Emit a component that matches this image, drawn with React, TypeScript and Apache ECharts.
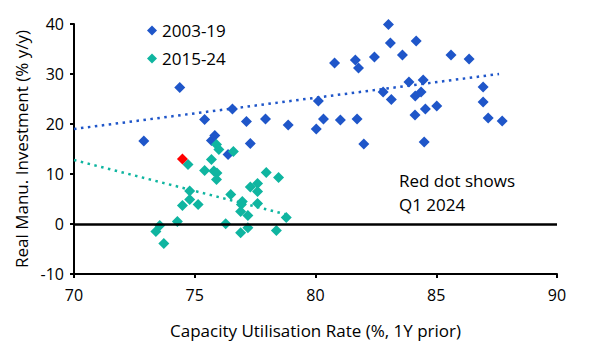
import React, { useEffect, useRef } from "react";
import * as echarts from "echarts";

const series2003: [number, number][] = [
  [72.89, 16.6], [74.38, 27.3], [75.41, 20.9], [75.69, 16.7], [75.83, 17.7],
  [76.38, 13.9], [76.56, 23.0], [77.14, 20.5], [77.3, 16.1], [77.93, 21.0],
  [78.87, 19.8], [80.03, 19.0], [80.12, 24.6], [80.33, 21.0], [80.79, 32.2],
  [81.03, 20.8], [81.65, 32.8], [81.78, 31.2], [81.72, 21.0], [82.0, 16.0],
  [82.44, 33.4], [82.8, 26.4], [83.02, 39.9], [83.1, 36.2], [83.14, 24.9],
  [83.6, 33.8], [83.87, 28.4], [84.17, 36.6], [84.13, 25.6], [84.37, 26.4],
  [84.46, 28.8], [84.12, 21.8], [84.55, 23.0], [84.5, 16.4], [85.02, 23.6],
  [85.61, 33.8], [86.36, 33.0], [86.94, 27.4], [86.94, 24.4], [87.15, 21.2],
  [87.73, 20.6],
];

const series2015: [number, number][] = [
  [73.39, -1.5], [73.55, -0.3], [73.72, -3.9], [74.28, 0.5], [74.49, 3.7],
  [74.72, 11.9], [74.79, 6.6], [74.79, 4.9], [75.14, 3.9], [75.41, 10.7],
  [75.69, 12.9], [75.79, 10.6], [75.92, 10.2], [75.9, 8.9], [75.9, 15.9],
  [76.0, 14.9], [76.6, 14.5], [76.28, 0.05], [76.49, 5.9], [76.97, 4.5],
  [76.93, 3.9], [76.9, 2.5], [77.2, 1.7], [77.2, -0.75], [76.9, -1.75],
  [77.3, 7.4], [77.6, 8.1], [77.6, 6.5], [77.6, 4.1], [77.96, 10.3],
  [78.47, 9.3], [78.79, 1.3], [78.38, -1.3],
];

const latestPoint: [number, number][] = [[74.49, 13.0]];

const trend2003: [number, number][] = [[70, 19.0], [87.6, 30.0]];
const trend2015: [number, number][] = [[70, 12.8], [78.8, 1.9]];

const legendNames = ["2003-19", "2015-24"];
const xTicks = { min: 70, max: 90, interval: 5 };
const yTicks = { min: -10, max: 40, interval: 10 };

const BLUE = "#1F56C9";
const TEAL = "#0FB5A0";
const FONT = "Open Sans";

export default function App() {
  const ref = useRef<HTMLDivElement>(null);
  useEffect(() => {
    if (!ref.current) return;
    const chart = echarts.init(ref.current, undefined, { renderer: "svg" });
    chart.setOption({
      animation: false,
      textStyle: { fontFamily: FONT, color: "#000" },
      grid: { left: 74, right: 32, top: 24, bottom: 76 },
      legend: {
        data: legendNames,
        orient: "vertical",
        left: 142,
        top: 17,
        itemWidth: 10,
        itemHeight: 10,
        itemGap: 11,
        icon: "diamond",
        textStyle: { fontSize: 17, fontFamily: FONT, color: "#000" },
      },
      xAxis: {
        type: "value",
        min: xTicks.min,
        max: xTicks.max,
        interval: xTicks.interval,
        name: "Capacity Utilisation Rate (%, 1Y prior)",
        nameLocation: "middle",
        nameGap: 48,
        nameTextStyle: { fontSize: 17, fontFamily: FONT, color: "#000" },
        axisLine: { onZero: false, lineStyle: { color: "#000", width: 2 } },
        axisTick: { show: true, length: 4, lineStyle: { color: "#000", width: 2 } },
        axisLabel: { fontSize: 16, color: "#000", margin: 13 },
        splitLine: { show: false },
      },
      yAxis: {
        type: "value",
        min: yTicks.min,
        max: yTicks.max,
        interval: yTicks.interval,
        name: "Real Manu. Investment (% y/y)",
        nameLocation: "middle",
        nameGap: 43,
        nameTextStyle: { fontSize: 17, fontFamily: FONT, color: "#000" },
        axisLine: { show: true, lineStyle: { color: "#000", width: 2 } },
        axisTick: { show: true, length: 4, lineStyle: { color: "#000", width: 2 } },
        axisLabel: { fontSize: 16, color: "#000", margin: 10 },
        splitLine: { show: false },
      },
      series: [
        {
          name: "trend2003",
          type: "line",
          data: trend2003,
          showSymbol: false,
          silent: true,
          lineStyle: { color: BLUE, width: 2.5, type: [2.5, 4.5] },
          z: 1,
        },
        {
          name: "trend2015",
          type: "line",
          data: trend2015,
          showSymbol: false,
          silent: true,
          lineStyle: { color: TEAL, width: 2.5, type: [2.5, 4.5] },
          z: 1,
          markLine: {
            silent: true,
            symbol: "none",
            label: { show: false },
            lineStyle: { color: "#000", width: 2.5, type: "solid" },
            data: [{ yAxis: 0 }],
          },
        },
        {
          name: legendNames[0],
          type: "scatter",
          symbol: "diamond",
          symbolSize: 11,
          itemStyle: { color: BLUE, opacity: 1 },
          data: series2003,
          z: 3,
        },
        {
          name: legendNames[1],
          type: "scatter",
          symbol: "diamond",
          symbolSize: 11,
          itemStyle: { color: TEAL, opacity: 1 },
          data: series2015,
          z: 3,
        },
        {
          name: "Q1 2024",
          type: "scatter",
          symbol: "diamond",
          symbolSize: 11,
          itemStyle: { color: "#FF0000", opacity: 1 },
          data: latestPoint,
          z: 4,
        },
      ],
      graphic: [
        {
          type: "text",
          left: 399,
          top: 168,
          style: {
            text: "Red dot shows\nQ1 2024",
            fontSize: 17,
            fontFamily: FONT,
            fill: "#000",
            lineHeight: 24,
          },
        },
      ],
    });
    return () => chart.dispose();
  }, []);
  return (
    <div
      ref={ref}
      style={{ position: "fixed", left: 0, top: 0, width: 589, height: 350, background: "#fff" }}
    />
  );
}
